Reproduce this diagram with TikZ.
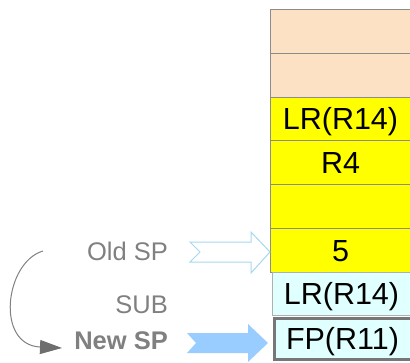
\documentclass[tikz,border=0pt]{standalone}
\usepackage{fontspec}
\setmainfont{Liberation Sans}
\usetikzlibrary{arrows.meta}
\definecolor{peach}{HTML}{FDE1C4}
\definecolor{yel}{HTML}{FFFF00}
\definecolor{cyanlt}{HTML}{E0FFFF}
\definecolor{cellgray}{HTML}{8C8C8C}
\definecolor{fpgray}{HTML}{777777}
\definecolor{labelgray}{HTML}{808080}
\definecolor{headgray}{HTML}{6E6E6E}
\definecolor{oldblue}{HTML}{A6D8F0}
\definecolor{newblue}{HTML}{99CCFF}
\begin{document}
\begin{tikzpicture}[x=1pt,y=-1pt,
  cell/.style={draw=cellgray, line width=1pt, minimum width=140pt, minimum height=43.75pt,
    inner sep=0pt, text height=22pt, text depth=0pt, anchor=north west,
    font=\fontsize{30.5}{30.5}\selectfont},
  lbl/.style={text=labelgray, anchor=base east, inner sep=0pt,
    font=\fontsize{25.5}{25.5}\selectfont},
  oldarrow/.style={draw=oldblue, line width=1pt, fill=white, line join=miter},
  newarrow/.style={fill=newblue, draw=none}]
\useasboundingbox (0,0) rectangle (410,362);
\node[cell, fill=peach] (c1) at (270,9) {};
\node[cell, fill=peach] (c2) at (270,52.75) {};
\node[cell, fill=yel] (c3) at (270,96.5) {LR(R14)};
\node[cell, fill=yel] (c4) at (270,140.25) {R4};
\node[cell, fill=yel] (c5) at (270,184) {};
\node[cell, fill=yel] (c6) at (270,227.75) {5};
\node[cell, fill=cyanlt, minimum width=138pt, draw=cellgray!70] (c7) at (272,271.5) {LR(R14)};
\node[cell, fill=cyanlt, minimum width=137pt, minimum height=41.5pt, draw=fpgray, line width=3pt] (c8) at (272.5,316.5) {FP(R11)};

\node[lbl] (old) at (168,260) {Old SP};
\node[lbl] (sub) at (168,313) {SUB};
\node[lbl, font=\fontsize{25.5}{25.5}\selectfont\bfseries] (new) at (168,349) {New SP};

\coordinate (oldtip) at (270,252);
\coordinate (newtip) at (268,343);
\draw[oldarrow] (190,242) -- (251,242) -- (251,232) -- (oldtip) -- (251,273) -- (251,262) -- (190,262) -- (200,252) -- cycle;
\fill[newarrow] (187,333) -- (248,333) -- (248,324) -- (newtip) -- (248,362) -- (248,353) -- (187,353) -- (196,343) -- cycle;

\coordinate (cs) at (43,251);
\coordinate (ce) at (62,348);
\draw[labelgray, line width=1pt, -{Triangle[length=22pt,width=14pt,color=headgray]}]
  (cs) .. controls (5,262) and (-5,345) .. (ce);
\end{tikzpicture}
\end{document}
